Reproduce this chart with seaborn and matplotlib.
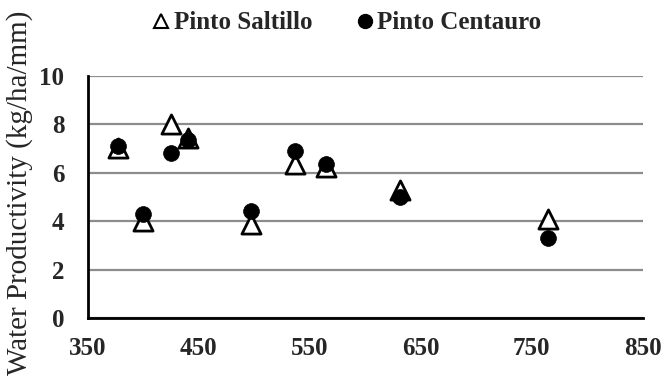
import pandas as pd
import seaborn as sns
import matplotlib.pyplot as plt
from matplotlib.lines import Line2D

# Data (water applied mm vs productivity)
saltillo_x = [377, 400, 425, 440, 497, 537, 565, 631, 765]
saltillo_y = [7.0, 4.0, 8.0, 7.45, 3.9, 6.35, 6.25, 5.3, 4.1]
centauro_x = [377, 400, 425, 440, 497, 537, 565, 631, 765]
centauro_y = [7.1, 4.3, 6.8, 7.35, 4.4, 6.9, 6.35, 5.0, 3.3]
x_ticks = [350, 450, 550, 650, 750, 850]
y_ticks = [0, 2, 4, 6, 8, 10]

df_s = pd.DataFrame({'x': saltillo_x, 'y': saltillo_y})
df_c = pd.DataFrame({'x': centauro_x, 'y': centauro_y})

sns.set_style('white')
plt.rcParams['font.family'] = ['Liberation Serif', 'DejaVu Serif']

fig = plt.figure(figsize=(6.66, 3.82), dpi=100)
ax = fig.add_axes([0.132, 0.1675, 0.833, 0.634])

# Triangles first, circles drawn on top
sns.scatterplot(data=df_s, x='x', y='y', marker='^', s=190, color='white',
                edgecolor='black', linewidth=2, ax=ax, zorder=3)
sns.scatterplot(data=df_c, x='x', y='y', marker='o', s=130, color='black',
                edgecolor='black', linewidth=0.5, ax=ax, zorder=4)

ax.set_xlim(350, 850)
ax.set_ylim(0, 10)
ax.set_xticks(x_ticks)
ax.set_yticks(y_ticks)
ax.grid(axis='y', color='#8c8c8c', linewidth=1.6)
ax.set_axisbelow(True)
for s in ['top', 'right']:
    ax.spines[s].set_visible(False)
for s in ['left', 'bottom']:
    ax.spines[s].set_color('black')
    ax.spines[s].set_linewidth(2)
ax.tick_params(axis='both', direction='out', length=5, width=1.5, color='black',
               labelsize=18)
ax.tick_params(axis='x', pad=9)
ax.tick_params(axis='y', pad=12)
for lab in ax.get_xticklabels() + ax.get_yticklabels():
    lab.set_fontweight('bold')

ax.set_xlabel('')
ax.set_ylabel('Water Productivity (kg/ha/mm)', fontsize=21)
ax.yaxis.set_label_coords(-0.099, 0.515)

handles = [
    Line2D([], [], marker='^', linestyle='', markersize=10, markerfacecolor='white',
           markeredgecolor='black', markeredgewidth=1.5),
    Line2D([], [], marker='o', linestyle='', markersize=10, markerfacecolor='black',
           markeredgecolor='black'),
]
fig.legend(handles, ['Pinto Saltillo', 'Pinto Centauro'], loc='center',
           bbox_to_anchor=(0.518, 0.94), ncol=2, frameon=False,
           prop={'weight': 'bold', 'size': 18}, handletextpad=0.0,
           columnspacing=1.6, handlelength=1.0)

fig.savefig('out.png', dpi=100)
